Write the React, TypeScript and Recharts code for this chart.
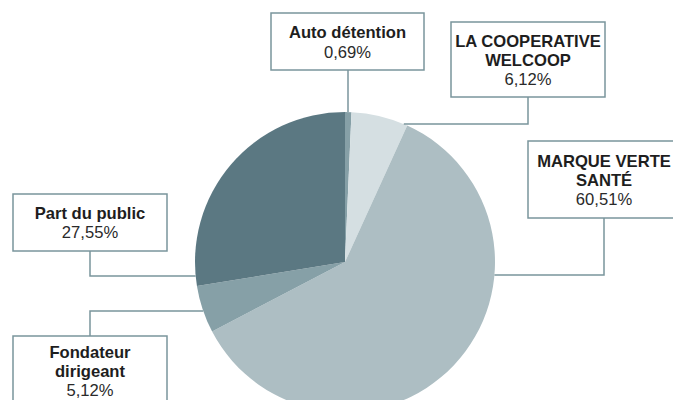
import React from "react";
import { PieChart, Pie, Cell } from "recharts";

// ---- data ----
const categories: string[] = [
  "Auto détention",
  "LA COOPERATIVE\nWELCOOP",
  "MARQUE VERTE\nSANTÉ",
  "Fondateur\ndirigeant",
  "Part du public",
];
const shares: number[] = [0.69, 6.12, 60.51, 5.12, 27.55];

// ---- styles ----
const sliceColors: string[] = ["#86a0a7", "#d5dfe2", "#adbec3", "#86a0a7", "#5b7882"];
const lineColor = "#7a959c";

// callout layout: box (x, y, w, h), stem x, elbow y (null = straight vertical to circle), first baseline offset
type Callout = { bx: number; by: number; bw: number; bh: number; sx: number; ey: number | null; off: number };
const callouts: Callout[] = [
  { bx: 271, by: 13, bw: 153, bh: 57, sx: 348, ey: null, off: 25.3 },
  { bx: 451, by: 22, bw: 154, bh: 75, sx: 528, ey: 124, off: 24.8 },
  { bx: 528, by: 141, bw: 152, bh: 77, sx: 604, ey: 275, off: 25.8 },
  { bx: 13, by: 336, bw: 154, bh: 80, sx: 90, ey: 311, off: 22 },
  { bx: 13, by: 194, bw: 154, bh: 57, sx: 90, ey: 276, off: 25 },
];

const data = categories.map((name, i) => ({ name, value: shares[i] }));

const fmt = (v: number) => v.toFixed(2).replace(".", ",") + "%";

const renderCallout = (props: any) => {
  const { cx, cy, outerRadius, index, value, name } = props;
  const c = callouts[index];
  if (!c) return null;
  const r = outerRadius;
  const lines = String(name).split("\n");
  let path = "";
  if (c.ey === null) {
    const dx = c.sx - cx;
    const yEdge = cy - Math.sqrt(Math.max(r * r - dx * dx, 0));
    path = `M${c.sx},${c.by + c.bh} L${c.sx},${yEdge}`;
  } else {
    const dy = c.ey - cy;
    const half = Math.sqrt(Math.max(r * r - dy * dy, 0));
    const xEdge = c.sx > cx ? cx + half : cx - half;
    const startY = c.ey > c.by ? c.by + c.bh : c.by;
    path = `M${c.sx},${startY} L${c.sx},${c.ey} L${xEdge},${c.ey}`;
  }
  const tx = c.bx + c.bw / 2;
  const firstBase = c.by + c.off;
  const lh = 19.2;
  return (
    <g key={`callout-${index}`}>
      <path d={path} stroke={lineColor} strokeWidth={1.5} fill="none" />
      <rect x={c.bx} y={c.by} width={c.bw} height={c.bh} fill="#ffffff" stroke={lineColor} strokeWidth={1.5} />
      {lines.map((ln, i) => (
        <text
          key={i}
          x={tx}
          y={firstBase + i * lh}
          textAnchor="middle"
          fontFamily="'Liberation Sans', Arial, sans-serif"
          fontWeight="bold"
          fontSize={16.6}
          fill="#1e1e1e"
        >
          {ln}
        </text>
      ))}
      <text
        x={tx}
        y={firstBase + lines.length * lh}
        textAnchor="middle"
        fontFamily="'Liberation Sans', Arial, sans-serif"
        fontSize={16.6}
        fill="#2a2a2a"
      >
        {fmt(value)}
      </text>
    </g>
  );
};

export default function App() {
  return (
    <div style={{ position: "absolute", left: 0, top: 0, width: 673, height: 400, background: "#ffffff" }}>
      <PieChart width={673} height={400} margin={{ top: 0, right: 0, bottom: 0, left: 0 }}>
        <Pie
          data={data}
          dataKey="value"
          nameKey="name"
          cx={345}
          cy={262}
          outerRadius={150}
          startAngle={90}
          endAngle={-270}
          stroke="none"
          label={renderCallout}
          labelLine={false}
          isAnimationActive={false}
        >
          {data.map((_, i) => (
            <Cell key={i} fill={sliceColors[i]} />
          ))}
        </Pie>
      </PieChart>
    </div>
  );
}
